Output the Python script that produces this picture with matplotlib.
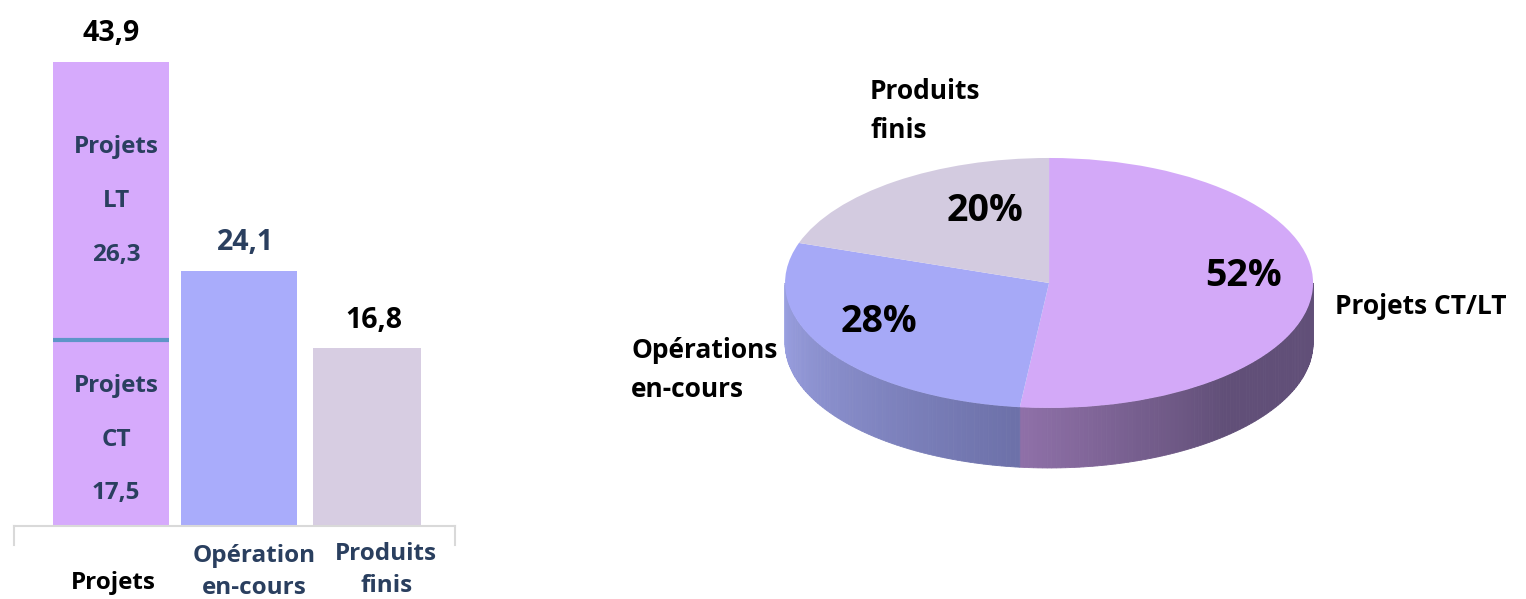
import matplotlib
matplotlib.use('Agg')
import matplotlib.pyplot as plt
import matplotlib.colors as mcolors
from matplotlib.patches import Polygon
import numpy as np

plt.rcParams['font.family'] = ['Open Sans', 'DejaVu Sans']
plt.rcParams['font.weight'] = 'bold'

# bar chart data
categories = ['Projets', 'Opération\nen-cours', 'Produits\nfinis']
projets_ct = 17.5
projets_lt = 26.3
totals = [43.9, 24.1, 16.8]
total_labels = ['43,9', '24,1', '16,8']
bar_colors = ['#d6aafc', '#a9acfb', '#d7cde2']

# pie data (shares of the same totals)
pie_labels = ['Projets CT/LT', 'Opérations\nen-cours', 'Produits\nfinis']
pie_values = totals
pie_colors = ['#d3a9f8', '#a6a9f7', '#d3cbe0']
side_colors = [('#8f70a8', '#614f78'), ('#9ca2e3', '#6c70a8'), ('#b0a8c0', '#8c84a0')]

navy = '#2a3f5f'

fig = plt.figure(figsize=(15.26, 5.99), dpi=100)

# ---- left: bars ----
ax = fig.add_axes([0.00917, 0.1219, 0.289, 0.8414])
x = np.arange(len(categories))
widths = [0.9, 0.9, 0.84]
ax.bar(x[0], projets_ct, widths[0], color=bar_colors[0])
ax.bar(x[0], projets_lt, widths[0], bottom=projets_ct, color=bar_colors[0])
ax.bar(x[1:], totals[1:], [widths[1], widths[2]], color=bar_colors[1:])
ax.hlines(projets_ct, x[0] - widths[0] / 2, x[0] + widths[0] / 2, color='#5e95c8', lw=3)

ax.set_xlim(-0.758, 2.6875)
ax.set_ylim(0, 47.55)
for s in ['top', 'right', 'left']:
    ax.spines[s].set_visible(False)
ax.spines['bottom'].set_color('#d9d9d9')
ax.spines['bottom'].set_linewidth(1.5)
ax.set_xticks([])
ax.set_yticks([])
# little end ticks on the axis line
for xe in [0, 1]:
    ax.plot([xe, xe], [0, -0.038], transform=ax.transAxes, color='#d9d9d9', lw=1.5, clip_on=False)

# segment labels inside the stacked bar
ax.text(x[0] + 0.04, projets_ct + projets_lt / 2 + 0.0, 'Projets\nLT\n' + f'{projets_lt:.1f}'.replace('.', ','),
        ha='center', va='center', fontsize=17.5, color=navy, linespacing=2.65)
ax.text(x[0] + 0.04, projets_ct / 2 - 0.6, 'Projets\nCT\n' + f'{projets_ct:.1f}'.replace('.', ','),
        ha='center', va='center', fontsize=17.5, color=navy, linespacing=2.65)

# totals above bars
tops = [projets_ct + projets_lt, totals[1], totals[2]]
label_colors = ['black', navy, 'black']
for i, (t, lab) in enumerate(zip(tops, total_labels)):
    ax.annotate(lab, (x[i] + 0.05 * (i > 0), t), xytext=(0, 20), textcoords='offset points',
                ha='center', va='center', fontsize=20.5, color=label_colors[i])

# category labels under the axis
xt = ax.get_xaxis_transform()
ax.text(x[0] + 0.02, -0.113, categories[0], transform=xt, ha='center', va='center', fontsize=17.5, color='black')
ax.text(x[1] + 0.12, -0.092, categories[1], transform=xt, ha='center', va='center', fontsize=17.5,
        color=navy, linespacing=1.45)
ax.text(x[2] + 0.15, -0.088, categories[2], transform=xt, ha='center', va='center', fontsize=17.5,
        color=navy, linespacing=1.45)

# ---- right: 3D-looking pie ----
pax = fig.add_axes([0.4712, 0.1937, 0.4325, 0.5843])
depth = 0.48
wedges, _, autotexts = pax.pie(pie_values, colors=pie_colors, startangle=90, counterclock=False,
                               autopct='%1.0f%%', pctdistance=0.7,
                               wedgeprops=dict(linewidth=0), textprops=dict(fontsize=27, weight='bold'))
pax.set_aspect('auto')

ramps = [0.5, 1.0, 1.0]
for k, w in enumerate(wedges):
    for shift in (-360, 0, 360):
        a1 = max(w.theta1 + shift, -180)
        a2 = min(w.theta2 + shift, 0)
        if a2 <= a1:
            continue
        c1 = np.array(mcolors.to_rgb(side_colors[k][0]))
        c2 = np.array(mcolors.to_rgb(side_colors[k][1]))
        edges = np.linspace(a1, a2, int(a2 - a1) + 2)
        for j in range(len(edges) - 1):
            th = np.radians(np.linspace(edges[j], edges[j + 1], 4))
            top = np.column_stack([np.cos(th), np.sin(th)])
            bot = np.column_stack([np.cos(th[::-1]), np.sin(th[::-1]) - depth])
            frac = (edges[j] - a1) / (a2 - a1)
            t = min(1.0, frac / ramps[k])
            col = c1 + (c2 - c1) * t
            pax.add_patch(Polygon(np.vstack([top, bot]), closed=True, facecolor=col,
                                  edgecolor=col, lw=0.6, zorder=0))

pct_pos = [(0.735, 0.056), (-0.644, -0.312), (-0.242, 0.576)]
for txt, pos in zip(autotexts, pct_pos):
    txt.set_position(pos)
    txt.set_ha('center')
    txt.set_va('center')

pax.text(1.083, -0.192, pie_labels[0], ha='left', va='center', fontsize=19)
pax.text(-1.583, -0.696, pie_labels[1], ha='left', va='center', fontsize=19, linespacing=1.6)
pax.text(-0.678, 1.376, pie_labels[2], ha='left', va='center', fontsize=19, linespacing=1.6)

pax.set_xlim(-1.25, 1.25)
pax.set_ylim(-1.6, 1.2)
pax.axis('off')

fig.savefig('out.png', dpi=100)
